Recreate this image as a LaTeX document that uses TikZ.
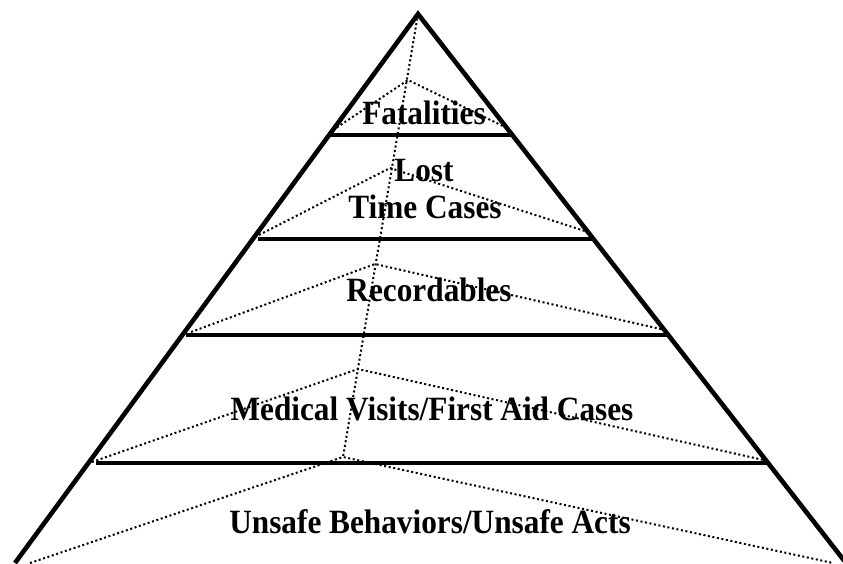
\documentclass[tikz,border=0pt]{standalone}
\usepackage{fontspec}
\setmainfont{Liberation Serif}
\begin{document}
\begin{tikzpicture}[x=1pt,y=-1pt,
  edge/.style={line width=4.6pt,line join=miter,line cap=butt},
  bar/.style={line width=4.8pt,line cap=butt},
  thinbar/.style={line width=3.2pt,line cap=butt},
  dots/.style={line width=2pt,dash pattern=on 2pt off 2.6pt,line cap=butt},
  lbl/.style={font=\fontsize{34}{40}\selectfont\bfseries,inner sep=0pt,anchor=base,xscale=0.92}]
\useasboundingbox (0,0) rectangle (843,563);
\clip (0,0) rectangle (843,563);
% pyramid corners
\coordinate (apex) at (418,14);
\coordinate (bl) at (15,563);
\coordinate (br) at (846,563);
% bars ends
\coordinate (f1) at (329,135); \coordinate (f2) at (512,135);
\coordinate (l1) at (258,239); \coordinate (l2) at (593,239);
\coordinate (r1) at (186,335); \coordinate (r2) at (668,335);
\coordinate (m1) at (96,463);  \coordinate (m2) at (768,463);
% dotted ridge points
\coordinate (p1) at (408,80);
\coordinate (p2) at (390,168);
\coordinate (p3) at (375,264);
\coordinate (p4) at (358,369);
\coordinate (p5) at (343,457);
\coordinate (a1) at (333,130); \coordinate (b1) at (507,128);
\coordinate (a2) at (259,235); \coordinate (b2) at (591,233);
\coordinate (a3) at (191,332); \coordinate (b3) at (665,330);
\coordinate (a4) at (92,462);  \coordinate (b4) at (768,461);
\coordinate (a5) at (30,563);  \coordinate (b5) at (833,563);
% dotted lines
\draw[dots] (apex) -- (p5);
\draw[dots] (a1) -- (p1) -- (b1);
\draw[dots] (a2) -- (p2) -- (b2);
\draw[dots] (a3) -- (p3) -- (b3);
\draw[dots] (a4) -- (p4) -- (b4);
\draw[dots] (a5) -- (p5) -- (b5);
% solid
\draw[edge] (bl) -- (apex) -- (br);
\draw[bar] (f1) -- (f2);
\draw[bar] (l1) -- (l2);
\draw[bar] (r1) -- (r2);
\draw[thinbar] (m1) -- (m2);
% labels
\node[lbl] (fat) at (424,124) {Fatalities};
\node[lbl] (lost) at (424,181) {Lost};
\node[lbl] (time) at (425,218) {Time Cases};
\node[lbl] (rec) at (429,301) {Recordables};
\node[lbl] (med) at (432,420) {Medical Visits/First Aid Cases};
\node[lbl] (uns) at (430,533) {Unsafe Behaviors/Unsafe Acts};
\end{tikzpicture}
\end{document}
